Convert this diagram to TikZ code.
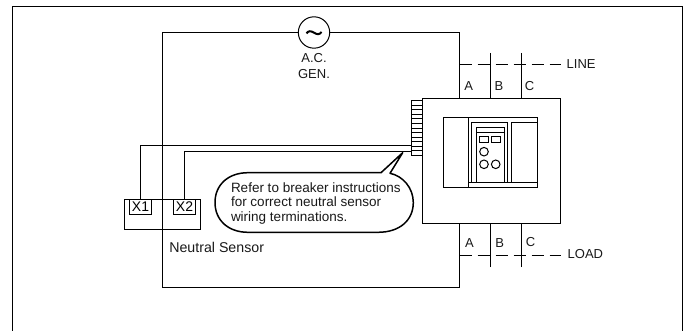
\documentclass[tikz,border=0pt]{standalone}
\usepackage{fontspec}
\usetikzlibrary{calc}
\setmainfont{Liberation Sans}
\tikzset{
  wire/.style={line width=1pt,draw=black},
  boxn/.style={wire,rectangle,inner sep=0pt,outer sep=0pt,anchor=north west},
  lbl/.style={inner sep=0pt,outer sep=0pt,font=\fontsize{13}{14}\selectfont,text=black!90},
  phase/.style={wire,dash pattern=on 12.5pt off 5.5pt},
  bubble/.style={line width=1.5pt,draw=black,fill=white,line join=round},
}
\begin{document}
\begin{tikzpicture}[x=1pt,y=-1pt]
\useasboundingbox (0,0) rectangle (688,331);
% outer frame
\coordinate (fbl) at (12.5,331);
\coordinate (ftl) at (12.5,6.5);
\coordinate (ftr) at (682.5,6.5);
\coordinate (fbr) at (682.5,331);
\draw[wire] (fbl) -- (ftl) -- (ftr) -- (fbr);
% breaker and terminal block
\node[boxn,minimum width=138pt,minimum height=125pt] (brk) at (422.5,98.5) {};
\node[boxn,minimum width=11pt,minimum height=55pt] (tb) at (411.5,100.5) {};
\foreach \i in {5,9,14,18,23,28,32,37,41,46,50}{\draw[wire] ($(tb.north west)+(0,\i)$) -- ($(tb.north east)+(0,\i)$);}
% generator loop
\node[wire,circle,minimum size=31.4pt,inner sep=0pt,outer sep=0pt,fill=white] (gen) at (314,32.5) {};
\coordinate (lt) at (162.5,32.5);
\coordinate (lb) at (162.5,287.5);
\coordinate (rb) at (459.5,287.5);
\coordinate (rt) at (459.5,32.5);
\draw[wire] (gen.west) -- (lt) -- (lb) -- (rb) -- (rb |- brk.south);
\draw[wire] (gen.east) -- (rt) -- (rt |- brk.north);
\draw[line width=2pt] (306.5,33.4) .. controls (308.5,30.5) and (311,30.8) .. (314,32.7) .. controls (317,34.6) and (319.5,34.9) .. (321.5,32);
\node[lbl,anchor=center] (ac) at (314,58) {A.C.};
\node[lbl,anchor=center] (genlbl) at (314,74) {GEN.};
% phases
\coordinate (bt) at (490.5,53);
\coordinate (ct) at (521.5,53);
\coordinate (bb) at (490.5,267);
\coordinate (cb) at (521.5,267);
\draw[wire] (bt) -- (bt |- brk.north);
\draw[wire] (ct) -- (ct |- brk.north);
\draw[wire] (bb) -- (bb |- brk.south);
\draw[wire] (cb) -- (cb |- brk.south);
\node[lbl,anchor=west] (line) at (566.7,64) {LINE};
\node[lbl,anchor=west] (load) at (567.7,254.5) {LOAD};
\draw[phase] (459.5,64.5) -- (561,64.5);
\draw[phase] (459.5,255.5) -- (561,255.5);
\node[lbl,anchor=center] (ta) at (468.7,86) {A};
\node[lbl,anchor=center] (tbb) at (499,86) {B};
\node[lbl,anchor=center] (tc) at (529.5,86) {C};
\node[lbl,anchor=center] (ba) at (469.5,243) {A};
\node[lbl,anchor=center] (bbb) at (499.7,243) {B};
\node[lbl,anchor=center] (bc) at (530.5,242) {C};
% breaker front
\node[boxn,minimum width=94pt,minimum height=70pt] (front) at (443.5,117.5) {};
\draw[wire] (468.5,117.5) -- (468.5,187.5);
\draw[wire] (468.5,182.5) -- (537.5,182.5);
\node[boxn,minimum width=36pt,minimum height=60pt] (trip) at (471.5,122.5) {};
\node[boxn,minimum width=28pt,minimum height=55pt] (unit) at (476.5,127.5) {};
\draw[wire] (476.5,132.5) -- (504.5,132.5);
\node[boxn,minimum width=26pt,minimum height=60pt] (rp) at (511.5,122.5) {};
\node[boxn,minimum width=9pt,minimum height=6pt] (s1) at (479.5,136.5) {};
\node[boxn,minimum width=9pt,minimum height=6pt] (s2) at (491.5,136.5) {};
\node[wire,circle,minimum size=8.6pt,inner sep=0pt] (c1) at (484,151.7) {};
\node[wire,circle,minimum size=8.6pt,inner sep=0pt] (c2) at (484,164.3) {};
\node[wire,circle,minimum size=8.6pt,inner sep=0pt] (c3) at (495.7,164.3) {};
% sensor
\node[boxn,minimum width=76pt,minimum height=30pt] (sensor) at (124.5,199.5) {};
\node[boxn,fill=white,minimum width=22pt,minimum height=15pt,font=\fontsize{14}{14}\selectfont] (x1) at (129.5,199.5) {X1};
\node[boxn,fill=white,minimum width=22pt,minimum height=15pt,font=\fontsize{14}{14}\selectfont] (x2) at (173.5,199.5) {X2};
\draw[wire] (lt) -- (lb);
\draw[wire] (x1.north) |- (tb.west |- 0,145.5);
\draw[wire] (x2.north) |- (tb.west |- 0,151.5);
\node[lbl,anchor=west,font=\fontsize{14.2}{14}\selectfont] (ns) at (169.3,247.7) {Neutral Sensor};
% callout
\draw[bubble] (381,172.7) -- (402.7,152.7) -- (390,173.3)
  .. controls (403,176) and (413.3,188) .. (413.3,202.5)
  .. controls (413.3,220) and (400,232.3) .. (378,232.3)
  -- (248,232.3)
  .. controls (228,232.3) and (215,220) .. (215,202.5)
  .. controls (215,185) and (228,172.7) .. (248,172.7) -- cycle;
\node[inner sep=0pt,outer sep=0pt,anchor=west,align=left,font=\fontsize{13.5}{14.3}\selectfont,text=black!90] (note) at (231,203.3) {Refer to breaker instructions\\for correct neutral sensor\\wiring terminations.};
\end{tikzpicture}
\end{document}
